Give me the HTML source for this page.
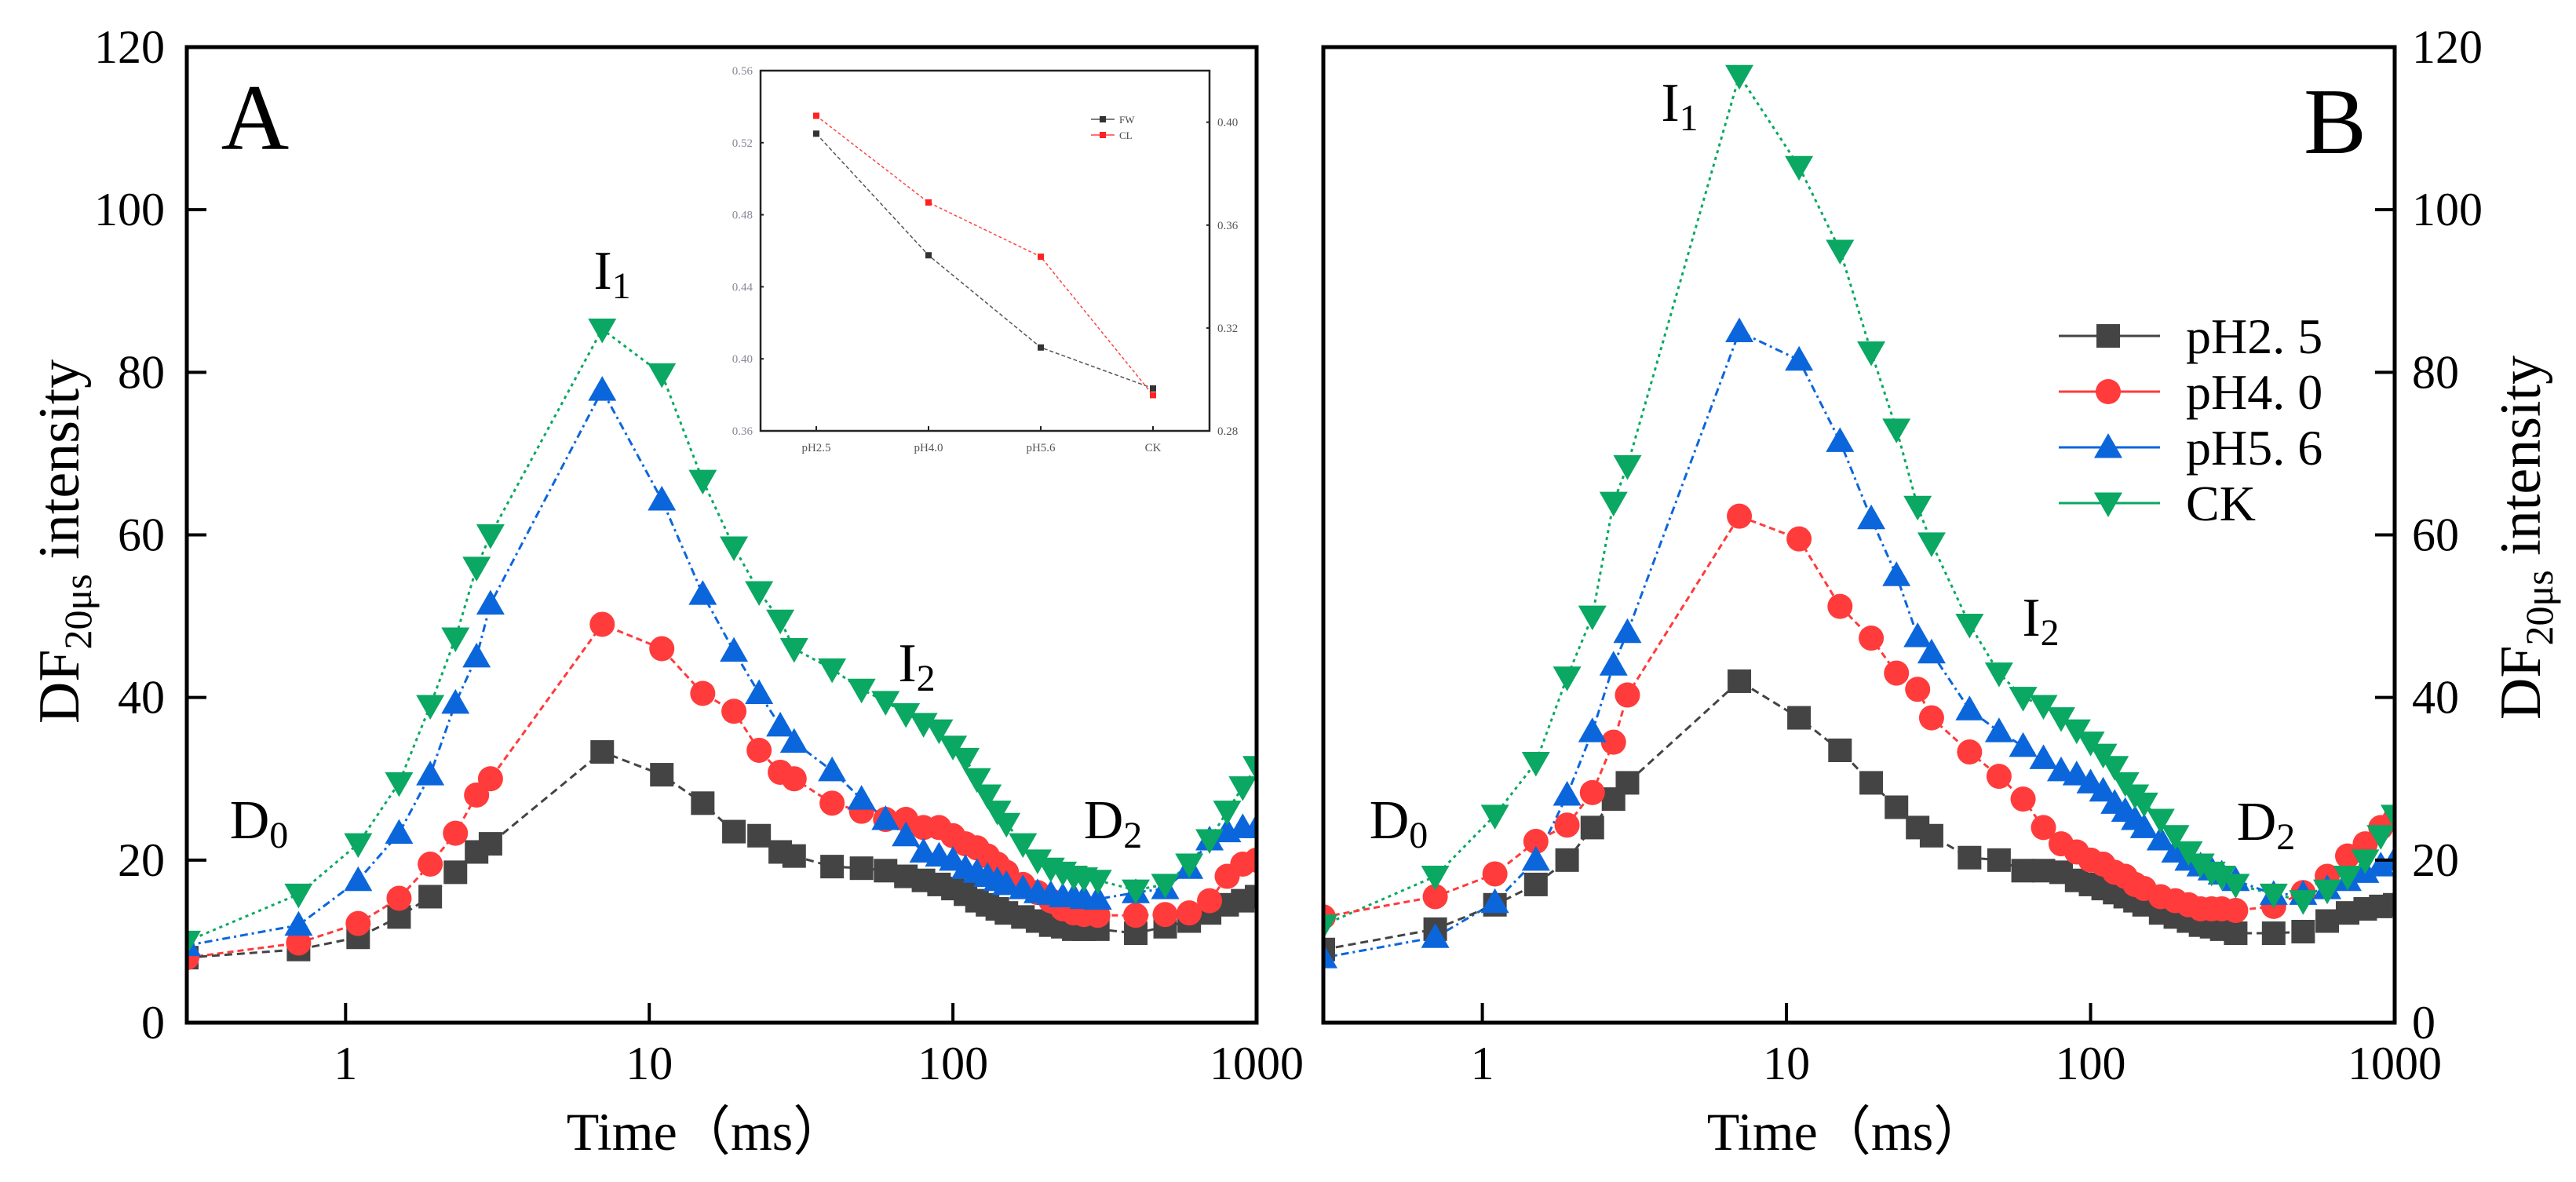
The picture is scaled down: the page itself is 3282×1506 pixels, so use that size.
<!DOCTYPE html>
<html><head><meta charset="utf-8"><style>
html,body{margin:0;padding:0;background:#fff;}
svg{display:block;font-family:"Liberation Serif",serif;}
</style></head><body>
<svg id="chart" width="3282" height="1506" viewBox="0 0 3282 1506" xmlns="http://www.w3.org/2000/svg"></svg>
<script>
const times=[0.3,0.7,1.1,1.5,1.9,2.3,2.7,3,7,11,15,19,23,27,30,40,50,60,70,80,90,100,110,120,130,140,150,170,190,210,230,250,270,300,400,500,600,700,800,900,1000];
const seriesNames=["pH2. 5","pH4. 0","pH5. 6","CK"];
const aPH25=[8,9,10.5,13,15.5,18.5,21,22,33.3,30.5,27,23.5,23,21,20.5,19.2,19,18.7,18,17.5,17,16.5,15.8,15,14.5,14,13.5,13,12.5,12,11.8,11.5,11.5,11.5,11,11.8,12.5,13.5,14.5,15,15.5];
const aPH40=[8,9.8,12.2,15.3,19.5,23.3,28,30,49,46,40.5,38.3,33.5,30.8,30,27,26,25,25,24,24,23,22,21.5,20.5,19.5,18.5,17,16,15,14,13.5,13.3,13.2,13.2,13.3,13.5,15,18,19.5,20];
const aPH56=[9.5,12,17.5,23.3,30.5,39.3,45,51.5,77.8,64.3,52.7,45.7,40.5,36.5,34.5,31,27.5,25,23,21,20.5,20,19,18.5,18,17.5,17,16.5,16,15.8,15.5,15.5,15.3,15.2,16,16.5,19,22.5,23.5,24,24];
const aCK=[10,15.8,22,29.5,39,47.3,56,60,85.3,79.8,66.7,58.5,53,49.5,46,43.5,41,39.5,38,36.8,36,34,32.5,30,28,26,24.5,22,20,19,18.5,18,17.8,17.5,16.3,17,19.5,22.5,26,29,31.5];
const bPH25=[9,11.5,14.5,17,20,24,27.5,29.5,42,37.5,33.5,29.5,26.5,24,23,20.3,20,18.7,18.7,18.5,17.5,17,16.5,16,15.5,15,14.5,13.5,13,12.5,12,11.8,11.5,11,11,11.2,12.5,13.5,14,14.3,14.5];
const bPH40=[13,15.5,18.3,22.3,24.3,28.3,34.5,40.3,62.3,59.5,51.2,47.3,43,41,37.5,33.3,30.3,27.5,24,22,21,20,19.5,18.5,18,17,16.5,15.5,15,14.5,14,14,14,13.8,14.3,16,18,20.5,22,24,25];
const bPH56=[8,10.5,14.8,20,28,35.8,44,48,85,81.5,71.5,62,55,47.5,45.5,38.5,35.8,34,32.5,31,30.5,29.5,28.5,27,26,25,24,22.5,21,20,19.3,18.8,18.3,17.5,15.8,15.8,16.5,17.5,18.5,19.3,20];
const bCK=[12,18,25.5,32,42.5,50,64,68.5,116.5,105.3,95,82.5,73,63.5,59,49,43,40,39,37.5,36,34.5,33,31.5,29.5,28,27,25,23,21,19.5,18.5,18,17,15.8,15,16.3,18,20,23,25.5];
const yTicks=[0,20,40,60,80,100,120];
const xTicks=[1,10,100,1000];
const insetCats=["pH2.5","pH4.0","pH5.6","CK"];
const insetBlack=[0.525,0.4575,0.4063,0.3836];
const insetRed=[0.4025,0.3688,0.3477,0.2939];
const insetLeftTicks=[0.36,0.40,0.44,0.48,0.52,0.56];
const insetRightTicks=[0.28,0.32,0.36,0.40];

const NS="http://www.w3.org/2000/svg";
const svg=document.getElementById('chart');
function el(tag,attrs,parent,text){const e=document.createElementNS(NS,tag);for(const k in attrs)e.setAttribute(k,attrs[k]);if(text!==undefined)e.textContent=text;(parent||svg).appendChild(e);return e;}
const colors=["#444444","#ff3b3b","#0b66dc","#0aa862"];
const dashes=["10,6","8,5","10,5,3,5","4,5"];

function marker(g,type,cx,cy,color,s){
  let m;
  if(type===0)m=el('rect',{x:cx-s/2,y:cy-s/2,width:s,height:s,fill:color},g);
  else if(type===1)m=el('circle',{cx:cx,cy:cy,r:s/2+1,fill:color},g);
  else if(type===2)m=el('polygon',{points:`${cx},${cy-s*0.6} ${cx-s*0.6},${cy+s*0.45} ${cx+s*0.6},${cy+s*0.45}`,fill:color},g);
  else m=el('polygon',{points:`${cx},${cy+s*0.6} ${cx-s*0.6},${cy-s*0.45} ${cx+s*0.6},${cy-s*0.45}`,fill:color},g);
  return m;
}

function panel(id,L,R,T,B,data,rightAxis){
  const g=el('g',{},svg);
  
  
  const xMin=0.3,xMax=1000;
  const X=t=>L+(Math.log10(t)-Math.log10(xMin))/(Math.log10(xMax)-Math.log10(xMin))*(R-L);
  const Y=v=>B-v/120*(B-T);
  const clip=el('clipPath',{id:'clip'+id},g);el('rect',{x:L,y:T,width:R-L,height:B-T},clip);
  const dg=el('g',{'clip-path':'url(#clip'+id+')'},g);
  for(let s=3;s>=0;s--){
    const pts=times.map((t,i)=>X(t)+','+Y(data[s][i])).join(' ');
    const ln=el('polyline',{points:pts,fill:'none',stroke:colors[s],'stroke-width':3,'stroke-dasharray':dashes[s]},dg);
    
    
  }
  for(let s=0;s<4;s++){
    times.forEach((t,i)=>{
      const m=marker(dg,s,X(t),Y(data[s][i]),colors[s],30);
      
      
    });
  }
  const fr=el('rect',{x:L,y:T,width:R-L,height:B-T,fill:'none',stroke:'#000','stroke-width':5},g);
  
  
  xTicks.forEach(t=>{
    el('line',{x1:X(t),x2:X(t),y1:B,y2:B-25,stroke:'#000','stroke-width':4},g);
    const tx=el('text',{x:X(t),y:B+72,'font-size':60,'text-anchor':'middle'},g,String(t));
    
    
  });
  yTicks.forEach(v=>{
    if(!rightAxis){
      el('line',{x1:L,x2:L+25,y1:Y(v),y2:Y(v),stroke:'#000','stroke-width':4},g);
      const tx=el('text',{x:L-28,y:Y(v)+20,'font-size':60,'text-anchor':'end'},g,String(v));
      
      
    }else{
      el('line',{x1:R,x2:R-25,y1:Y(v),y2:Y(v),stroke:'#000','stroke-width':4},g);
      const tx=el('text',{x:R+22,y:Y(v)+20,'font-size':60,'text-anchor':'start'},g,String(v));
      
      
    }
  });
  return {X,Y,g};
}

const pA=panel('a',238,1601,60,1303,[aPH25,aPH40,aPH56,aCK],false);
const pB=panel('b',1686,3051,60,1303,[bPH25,bPH40,bPH56,bCK],true);

function txt(x,y,size,str,name,anchor,extra){
  const t=el('text',Object.assign({x:x,y:y,'font-size':size,'text-anchor':anchor||'middle'},extra||{}),svg);
  t.innerHTML=str;
  
  
  return t;
}
txt(900,1465,68,'Time（ms）','x-axis-title-a');
txt(2353,1465,68,'Time（ms）','x-axis-title-b');
txt(0,0,74,'DF<tspan font-size="50" dy="16">20μs</tspan><tspan dy="-16"> intensity</tspan>','y-axis-title-a','middle',{transform:'translate(100,690) rotate(-90)'});
txt(0,0,74,'DF<tspan font-size="50" dy="16">20μs</tspan><tspan dy="-16"> intensity</tspan>','y-axis-title-b','middle',{transform:'translate(3236,685) rotate(-90)'});
txt(325,190,120,'A','panel-label-a');
txt(2975,195,120,'B','panel-label-b');
txt(780,368,70,'I<tspan font-size="48" dy="12">1</tspan>','annotation-i1-a');
txt(1168,868,70,'I<tspan font-size="48" dy="12">2</tspan>','annotation-i2-a');
txt(330,1068,70,'D<tspan font-size="48" dy="12">0</tspan>','annotation-d0-a');
txt(1418,1068,70,'D<tspan font-size="48" dy="12">2</tspan>','annotation-d2-a');
txt(2140,154,70,'I<tspan font-size="48" dy="12">1</tspan>','annotation-i1-b');
txt(2600,810,70,'I<tspan font-size="48" dy="12">2</tspan>','annotation-i2-b');
txt(1782,1068,70,'D<tspan font-size="48" dy="12">0</tspan>','annotation-d0-b');
txt(2887,1070,70,'D<tspan font-size="48" dy="12">2</tspan>','annotation-d2-b');

const lg=el('g',{},svg);


const legY=[428,499,570,641];
seriesNames.forEach((n,i)=>{
  const e=el('g',{},lg);
  
  
  el('line',{x1:2623,x2:2752,y1:legY[i],y2:legY[i],stroke:colors[i],'stroke-width':3},e);
  marker(e,i,2686,legY[i],colors[i],30);
  el('text',{x:2785,y:legY[i]+22,'font-size':64},e,n);
});

const ig=el('g',{},svg);


const iL=969,iR=1541,iT=90,iB=549;
const iX=i=>1040+i*(1469-1040)/3;
const iYl=v=>iB-(v-0.36)/(0.56-0.36)*(iB-iT);
const iYr=v=>iB-(v-0.28)/0.04*((iB-iT)*395/1383);
el('rect',{x:iL,y:iT,width:iR-iL,height:iB-iT,fill:'#fff',stroke:'#222','stroke-width':2.5},ig);
insetLeftTicks.forEach(v=>{el('line',{x1:iL,x2:iL+4,y1:iYl(v),y2:iYl(v),stroke:'#222','stroke-width':2},ig);
  el('text',{x:iL-10,y:iYl(v)+5,'font-size':15,'text-anchor':'end',fill:'#889'},ig,v.toFixed(2));});
insetRightTicks.forEach(v=>{el('line',{x1:iR,x2:iR-4,y1:iYr(v),y2:iYr(v),stroke:'#222','stroke-width':2},ig);
  el('text',{x:iR+10,y:iYr(v)+5,'font-size':15,fill:'#555'},ig,v.toFixed(2));});
insetCats.forEach((c,i)=>{el('line',{x1:iX(i),x2:iX(i),y1:iB,y2:iB-6,stroke:'#222','stroke-width':2},ig);
  el('text',{x:iX(i),y:iB+26,'font-size':15,'text-anchor':'middle',fill:'#555'},ig,c);});
el('polyline',{points:insetBlack.map((v,i)=>iX(i)+','+iYl(v)).join(' '),fill:'none',stroke:'#555','stroke-width':1.5,'stroke-dasharray':'5,3'},ig);
el('polyline',{points:insetRed.map((v,i)=>iX(i)+','+iYr(v)).join(' '),fill:'none',stroke:'#f44','stroke-width':1.5,'stroke-dasharray':'4,3'},ig);
insetBlack.forEach((v,i)=>{const m=el('rect',{x:iX(i)-4,y:iYl(v)-4,width:8,height:8,fill:'#333'},ig);});
insetRed.forEach((v,i)=>{const m=el('rect',{x:iX(i)-4,y:iYr(v)-4,width:8,height:8,fill:'#f22'},ig);});
el('line',{x1:1390,x2:1420,y1:152,y2:152,stroke:'#555','stroke-width':1.5},ig);
el('rect',{x:1401,y:148,width:8,height:8,fill:'#333'},ig);
el('text',{x:1426,y:157,'font-size':13,fill:'#444'},ig,'FW');
el('line',{x1:1390,x2:1420,y1:172,y2:172,stroke:'#f44','stroke-width':1.5},ig);
el('rect',{x:1401,y:168,width:8,height:8,fill:'#f22'},ig);
el('text',{x:1426,y:177,'font-size':13,fill:'#444'},ig,'CL');
</script>
</body></html>
